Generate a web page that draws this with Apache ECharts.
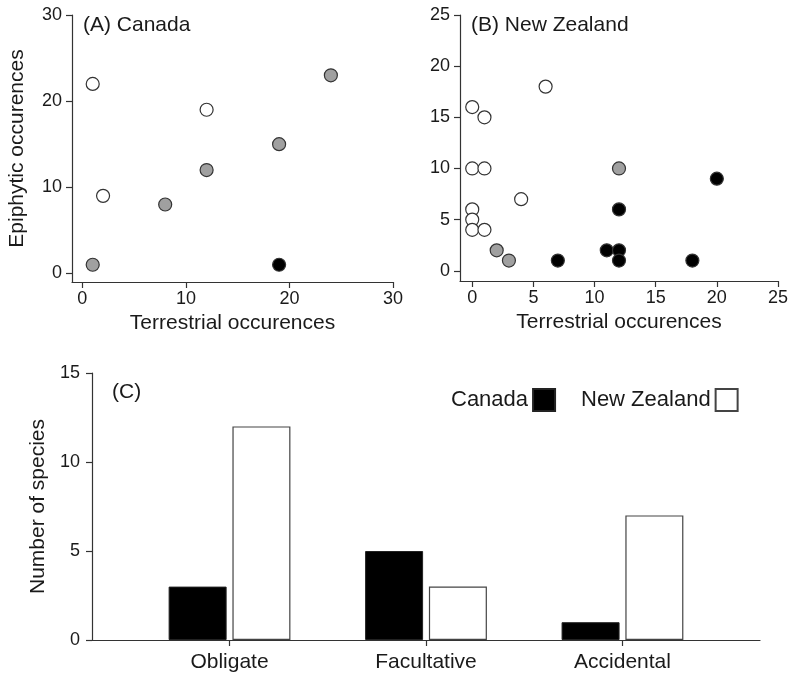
<!DOCTYPE html>
<html>
<head>
<meta charset="utf-8">
<script src="https://cdn.jsdelivr.net/npm/echarts@6/dist/echarts.min.js"></script>
<style>html,body{margin:0;padding:0;background:#fff}#c{width:791px;height:679px}</style>
</head>
<body>
<div id="c"></div>
<script>
// Panel A: Canada  [terrestrial, epiphytic]
const canadaOpen  = [[1,22],[12,19],[2,9]];
const canadaGray  = [[24,23],[19,15],[12,12],[8,8],[1,1]];
const canadaBlack = [[19,1]];
// Panel B: New Zealand
const nzOpen  = [[0,16],[1,15],[6,18],[0,10],[1,10],[4,7],[0,6],[0,5],[0,4],[1,4]];
const nzGray  = [[12,10],[2,2],[3,1]];
const nzBlack = [[20,9],[12,6],[11,2],[12,2],[12,1],[7,1],[18,1]];
// Panel C
const categories = ['Obligate','Facultative','Accidental'];
const canadaCounts = [3,5,1];
const nzCounts = [12,3,7];
const ticksA = [0,10,20,30];
const ticksB = [0,5,10,15,20,25];
const ticksC = [0,5,10,15];

const TXT = '#1a1a1a', AX = '#333';
const font = 'Liberation Sans, Arial, sans-serif';

function valAxis(opts){
  return Object.assign({
    type:'value',
    axisLine:{show:true,onZero:false,lineStyle:{color:AX,width:1.2}},
    axisTick:{show:true,length:6,lineStyle:{color:AX,width:1.2}},
    axisLabel:{color:TXT,fontSize:18,fontFamily:font,margin:10},
    splitLine:{show:false},
    nameTextStyle:{color:TXT,fontSize:21,fontFamily:font},
    nameLocation:'middle'
  }, opts);
}

function scat(data, color, xi){
  return {type:'scatter', xAxisIndex:xi, yAxisIndex:xi, data:data, symbolSize:13,
    itemStyle:{color:color, borderColor:'#333', borderWidth:1.2, opacity:1}, silent:true, z:3};
}

function leg(name, left){
  return {left:left, top:388, align:'right', orient:'horizontal', padding:0,
    itemWidth:22, itemHeight:22, icon:'rect', width:300,
    textStyle:{color:TXT,fontSize:22,fontFamily:font},
    data:[name], selectedMode:false};
}

const chart = echarts.init(document.getElementById('c'), null, {renderer:'canvas'});
chart.setOption({
  backgroundColor:'#fff',
  animation:false,
  textStyle:{fontFamily:font},
  grid:[
    {left:72, top:15, width:321, height:267},
    {left:460, top:15, width:321, height:266},
    {left:92, top:373, width:668, height:267}
  ],
  xAxis:[
    valAxis({gridIndex:0,min:-1,max:30,name:'Terrestrial occurences',nameGap:31,
      axisTick:{show:true,length:6,customValues:ticksA,lineStyle:{color:AX,width:1.2}},
      axisLabel:{color:TXT,fontSize:18,fontFamily:font,margin:8,customValues:ticksA}}),
    valAxis({gridIndex:1,min:-1,max:25,name:'Terrestrial occurences',nameGap:31,
      axisTick:{show:true,length:6,customValues:ticksB,lineStyle:{color:AX,width:1.2}},
      axisLabel:{color:TXT,fontSize:18,fontFamily:font,margin:8,customValues:ticksB}}),
    valAxis({gridIndex:2,min:-0.7,max:2.7,
      axisTick:{show:true,length:6,customValues:[0,1,2],lineStyle:{color:AX,width:1.2}},
      axisLabel:{color:TXT,fontSize:21,fontFamily:font,margin:12,customValues:[0,1,2],
        formatter:function(v){return categories[Math.round(v)];}}})
  ],
  yAxis:[
    valAxis({gridIndex:0,min:-1,max:30,name:'Epiphytic occurences',nameGap:44,
      axisTick:{show:true,length:6,customValues:ticksA,lineStyle:{color:AX,width:1.2}},
      axisLabel:{color:TXT,fontSize:18,fontFamily:font,margin:10,customValues:ticksA}}),
    valAxis({gridIndex:1,min:-1,max:25,
      axisTick:{show:true,length:6,customValues:ticksB,lineStyle:{color:AX,width:1.2}},
      axisLabel:{color:TXT,fontSize:18,fontFamily:font,margin:10,customValues:ticksB}}),
    valAxis({gridIndex:2,min:0,max:15,name:'Number of species',nameGap:41,
      axisTick:{show:true,length:6,customValues:ticksC,lineStyle:{color:AX,width:1.2}},
      axisLabel:{color:TXT,fontSize:18,fontFamily:font,margin:12,customValues:ticksC}})
  ],
  legend:[leg('Canada',451), leg('New Zealand',581)],
  series:[
    scat(canadaOpen,'#ffffff',0),
    scat(canadaGray,'#a0a0a0',0),
    scat(canadaBlack,'#000000',0),
    scat(nzOpen,'#ffffff',1),
    scat(nzGray,'#a0a0a0',1),
    scat(nzBlack,'#000000',1),
    {type:'bar', name:'Canada', xAxisIndex:2, yAxisIndex:2,
      data:canadaCounts.map(function(v,i){return [i,v];}),
      barWidth:58, barGap:'10%',
      itemStyle:{color:'#000', borderColor:'#222', borderWidth:1}},
    {type:'bar', name:'New Zealand', xAxisIndex:2, yAxisIndex:2,
      data:nzCounts.map(function(v,i){return [i,v];}),
      barWidth:58, barGap:'10%',
      itemStyle:{color:'#fff', borderColor:'#444', borderWidth:1.2}}
  ],
  graphic:[
    {type:'text', left:83, top:15, style:{text:'(A) Canada', fill:TXT, font:'21px '+font}},
    {type:'text', left:471, top:15, style:{text:'(B) New Zealand', fill:TXT, font:'21px '+font}},
    {type:'text', left:112, top:382, style:{text:'(C)', fill:TXT, font:'21px '+font}}
  ]
});
</script>
</body>
</html>
